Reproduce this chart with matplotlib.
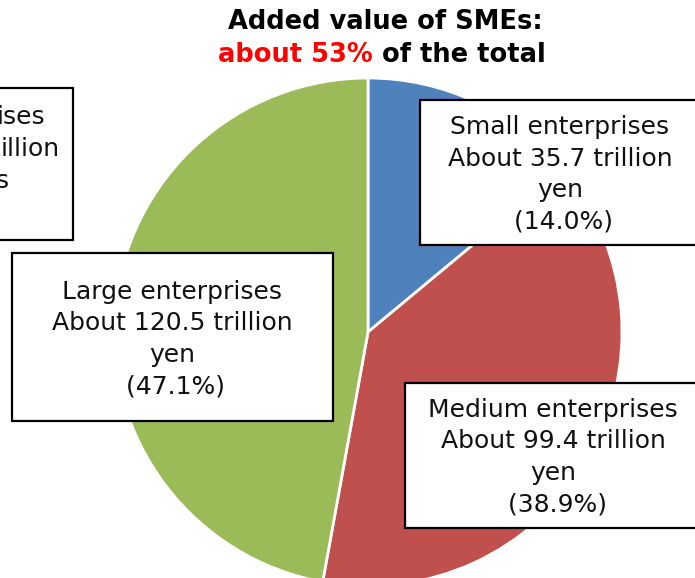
import matplotlib
matplotlib.use("Agg")
import matplotlib.pyplot as plt
from matplotlib.patches import Rectangle

plt.rcParams['font.family'] = ['DejaVu Sans', 'Noto Sans CJK JP']

categories = ["Small enterprises", "Medium enterprises", "Large enterprises"]
values = [35.7, 99.4, 120.5]
shares = ["14.0%", "38.9%", "47.1%"]
colors = ["#4F81BD", "#C0504D", "#9BBB59"]

W, H = 695, 578
fig = plt.figure(figsize=(W / 100, H / 100), dpi=100)
ax = fig.add_axes([0, 0, 1, 1])

def Y(py):
    return H - py

ax.pie(values, colors=colors, startangle=90, counterclock=False,
       center=(368, Y(332)), radius=254, frame=True,
       wedgeprops=dict(edgecolor='white', linewidth=2))
ax.set_xlim(0, W)
ax.set_ylim(0, H)
ax.set_aspect('equal')
ax.axis('off')

fs = 18

def box(x0, y0, x1, y1, lines, cx, y_first, step=31.5):
    ax.add_patch(Rectangle((x0, Y(y1)), x1 - x0, y1 - y0, facecolor='white',
                           edgecolor='black', linewidth=1.6, zorder=5))
    for i, s in enumerate(lines):
        ax.text(cx, Y(y_first + i * step), s, ha='center', va='center',
                fontsize=fs, color='#111111', zorder=6)

def label_lines(i):
    name = categories[i]
    return [name, f"About {values[i]} trillion", "yen", f" ({shares[i]})"]

box(420, 100, 700, 245, label_lines(0), 560, 127)
box(405, 383, 700, 528, label_lines(1), 553, 410)
box(12, 253, 333, 421, label_lines(2), 172, 292)

# partially visible box at top-left (cut off by the image edge)
ax.add_patch(Rectangle((-20, Y(240)), 93, 152, facecolor='white',
                       edgecolor='black', linewidth=1.6, zorder=5))
for s, xr, yy in [("ises", 45, 117), ("illion", 60, 149), ("s", 9, 181)]:
    ax.text(xr, Y(yy), s, ha='right', va='center', fontsize=fs,
            color='#111111', zorder=6)

# title
ax.text(385, Y(22), "Added value of SMEs:", ha='center', va='center',
        fontsize=18.5, fontweight='bold', color='black')
t1 = ax.text(218, Y(55), "about 53%", ha='left', va='center',
             fontsize=18.5, fontweight='bold', color='#FF0000')
ax.annotate(" of the total", xy=(1, 0), xycoords=t1, ha='left', va='bottom',
            fontsize=18.5, fontweight='bold', color='black')

fig.savefig("out.png", dpi=100)
